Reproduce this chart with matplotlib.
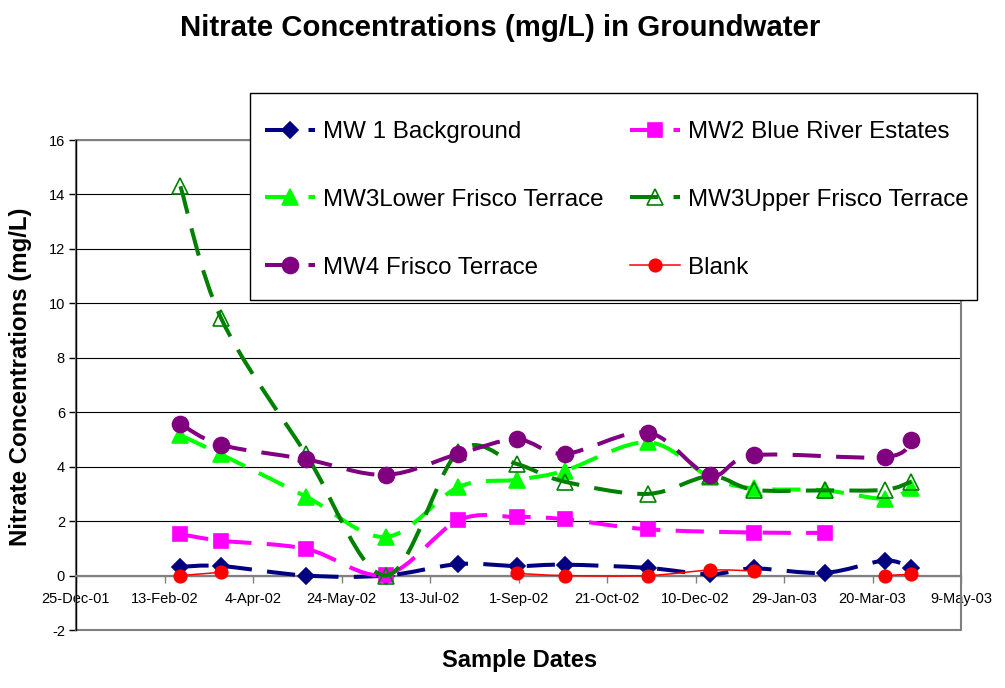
import numpy as np
import matplotlib
matplotlib.use('Agg')
import matplotlib.pyplot as plt
import matplotlib.dates as mdates
from matplotlib.path import Path
from matplotlib.patches import PathPatch, Rectangle
from matplotlib.lines import Line2D

plt.rcParams['font.family'] = ['Liberation Sans', 'DejaVu Sans']
plt.rcParams['axes.unicode_minus'] = False

# sample dates
dates = ['2002-02-22', '2002-03-17', '2002-05-04', '2002-06-18', '2002-07-29',
         '2002-08-31', '2002-09-27', '2002-11-13', '2002-12-18', '2003-01-12',
         '2003-02-21', '2003-03-27', '2003-04-11']

nan = np.nan
mw1 = [0.32, 0.35, 0.0, 0.0, 0.42, 0.35, 0.40, 0.28, 0.05, 0.26, 0.10, 0.55, 0.27]
mw2 = [1.52, 1.28, 0.98, 0.03, 2.03, 2.15, 2.07, 1.70, nan, 1.58, 1.57, nan, nan]
mw3_lower = [5.15, 4.45, 2.90, 1.42, 3.25, 3.52, 3.85, 4.90, 3.62, 3.20, 3.13, 2.82, 3.22]
mw3_upper = [14.3, 9.45, 4.45, 0.0, 4.55, 4.10, 3.45, 3.00, 3.65, 3.15, 3.13, 3.15, 3.45]
mw4 = [5.57, 4.80, 4.27, 3.70, 4.47, 5.00, 4.47, 5.25, 3.68, 4.42, nan, 4.35, 4.97]
blank = [0.0, 0.12, nan, nan, nan, 0.08, 0.0, 0.0, 0.20, 0.17, nan, 0.0, 0.05]

tick_dates = ['2001-12-25', '2002-02-13', '2002-04-04', '2002-05-24', '2002-07-13',
              '2002-09-01', '2002-10-21', '2002-12-10', '2003-01-29', '2003-03-20',
              '2003-05-09']
tick_labels = ['25-Dec-01', '13-Feb-02', '4-Apr-02', '24-May-02', '13-Jul-02',
               '1-Sep-02', '21-Oct-02', '10-Dec-02', '29-Jan-03', '20-Mar-03',
               '9-May-03']


def smooth_path(x, y):
    '''bezier path through the points, like excel smoothed lines'''
    pts = np.column_stack([x, y])
    n = len(pts)
    verts = [pts[0]]
    codes = [Path.MOVETO]
    for i in range(n - 1):
        p0 = pts[max(i - 1, 0)]
        p1 = pts[i]
        p2 = pts[i + 1]
        p3 = pts[min(i + 2, n - 1)]
        verts += [p1 + (p2 - p0) / 6, p2 - (p3 - p1) / 6, p2]
        codes += [Path.CURVE4] * 3
    return Path(verts, codes)


x = mdates.date2num(np.array(dates, dtype='datetime64[D]'))

dash = (0, (7, 3.8))
series = [
    # label, values, color, marker, ms, face, ls, lw, break at gaps
    ('MW 1 Background', mw1, '#000080', 'D', 8, '#000080', dash, 2.9, False),
    ('MW2 Blue River Estates', mw2, '#FF00FF', 's', 10, '#FF00FF', dash, 2.9, False),
    ('MW3Lower Frisco Terrace', mw3_lower, '#00FF00', '^', 11, '#00FF00', dash, 2.9, False),
    ('MW3Upper Frisco Terrace', mw3_upper, '#008000', '^', 11, 'none', dash, 2.9, False),
    ('MW4 Frisco Terrace', mw4, '#800080', 'o', 11.5, '#800080', dash, 2.9, False),
    ('Blank', blank, '#FF0000', 'o', 9, '#FF0000', '-', 1.1, True),
]

fig = plt.figure(figsize=(10.05, 6.88), dpi=100)
ax = fig.add_axes([76 / 1005, 1 - 630 / 688, 885 / 1005, 490 / 688])

handles = []
for k, (label, vals, color, marker, ms, face, ls, lw, gaps) in enumerate(series):
    v = np.array(vals, dtype=float)
    ok = ~np.isnan(v)
    if gaps:
        runs = []
        cur = []
        for i in range(len(v)):
            if ok[i]:
                cur.append(i)
            else:
                if cur:
                    runs.append(cur)
                cur = []
        if cur:
            runs.append(cur)
    else:
        runs = [list(np.where(ok)[0])]
    z = 3 + k * 0.2
    for r in runs:
        if len(r) < 2:
            continue
        patch = PathPatch(smooth_path(x[r], v[r]), facecolor='none', edgecolor=color,
                          linewidth=lw, linestyle=ls, zorder=z)
        ax.add_patch(patch)
    ax.plot(x[ok], v[ok], linestyle='none', marker=marker, ms=ms, mfc=face,
            mec=color, mew=1.2, zorder=z + 0.1, clip_on=False)
    handles.append(Line2D([], [], color=color, lw=lw, linestyle=ls, marker=marker,
                          ms=ms, mfc=face, mec=color, mew=1.2, label=label))

ax.set_xlim(mdates.date2num(np.datetime64(tick_dates[0])),
            mdates.date2num(np.datetime64(tick_dates[-1])))
ax.set_ylim(-2, 16)
ax.set_yticks(np.arange(-2, 17, 2))
ax.set_xticks(mdates.date2num(np.array(tick_dates, dtype='datetime64[D]')))
ax.set_xticklabels(tick_labels)

ax.yaxis.grid(True, color='black', lw=0.8)
ax.set_axisbelow(True)

ax.spines['top'].set_visible(False)
ax.spines['right'].set_visible(False)
ax.spines['bottom'].set_position(('data', 0))
ax.spines['bottom'].set_color('#808080')
ax.spines['bottom'].set_linewidth(1.6)
ax.spines['bottom'].set_zorder(2.5)
ax.spines['left'].set_color('black')
ax.spines['left'].set_linewidth(1.0)

ax.add_patch(Rectangle((0, 0), 1, 1, transform=ax.transAxes, facecolor='none',
                       edgecolor='#808080', lw=1.5, zorder=2.4, clip_on=False))

ax.tick_params(axis='y', direction='out', length=5, width=1, labelsize=10.5, pad=3)
ax.tick_params(axis='x', direction='out', length=5, width=1, color='#808080',
               labelsize=10.5, pad=7)

fig.text(0.4975, 1 - 28 / 688, 'Nitrate Concentrations (mg/L) in Groundwater',
         ha='center', va='center', fontsize=21.2, fontweight='bold')
fig.text(520 / 1005, 1 - 661 / 688, 'Sample Dates', ha='center', va='center',
         fontsize=17, fontweight='bold')
fig.text(21 / 1005, 1 - 377 / 688, 'Nitrate Concentrations (mg/L)', ha='center',
         va='center', rotation=90, fontsize=17.3, fontweight='bold')

# legend box drawn separately so its size matches the original
fig.add_artist(Rectangle((250 / 1005, 1 - 300 / 688), 727 / 1005, 207 / 688,
                         transform=fig.transFigure, facecolor='white',
                         edgecolor='black', lw=1.0, zorder=5))
# row-major order: two entries per row
order = [0, 2, 4, 1, 3, 5]
leg = fig.legend(handles=[handles[i] for i in order], loc='upper left', ncol=2,
                 bbox_to_anchor=(265 / 1005, 1 - 121 / 688), fontsize=17.4,
                 frameon=False, borderpad=0, labelspacing=1.9,
                 handlelength=2.08, handletextpad=0.32, columnspacing=1.1,
                 numpoints=1, borderaxespad=0)
leg.set_zorder(10)

fig.savefig('out.png', dpi=100)
